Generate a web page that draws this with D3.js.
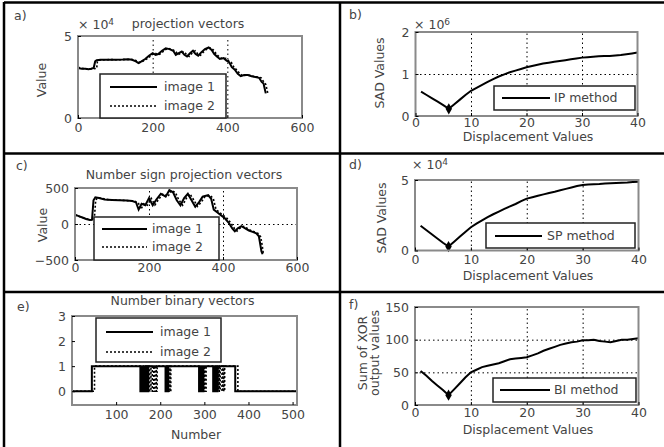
<!DOCTYPE html>
<html><head><meta charset="utf-8">
<script src="https://cdn.jsdelivr.net/npm/d3@7"></script>
<style>
body{margin:0;background:#fff}
text{font-family:"DejaVu Sans",sans-serif;fill:#444;font-size:12.5px}
</style>
</head><body><svg width="664" height="447"></svg>
<script>
// ---- data ----
const displacement = [1,2,3,4,5,6,7,8,9,10,11,12,13,14,15,16,17,18,19,20,21,22,23,24,25,26,27,28,29,30,31,32,33,34,35,36,37,38,39,40];

// b) IP method, SAD (x 10^6)
const sadIP = [0.58,0.50,0.42,0.34,0.26,0.17,0.28,0.39,0.50,0.60,0.67,0.74,0.81,0.88,0.94,0.99,1.04,1.08,1.12,1.16,1.19,1.22,1.25,1.27,1.29,1.31,1.33,1.35,1.37,1.39,1.40,1.41,1.42,1.43,1.43,1.44,1.45,1.47,1.49,1.51];
// d) SP method, SAD (x 10^4)
const sadSP = [1.75,1.45,1.15,0.85,0.55,0.28,0.62,0.97,1.32,1.65,1.90,2.13,2.36,2.57,2.76,2.95,3.13,3.30,3.50,3.68,3.78,3.88,3.98,4.08,4.17,4.27,4.37,4.47,4.57,4.65,4.68,4.70,4.72,4.75,4.77,4.79,4.81,4.83,4.86,4.88];
// f) BI method, sum of XOR
const xorBI = [52,45,37,30,23,15,24,33,42,50,54,58,60,62,64,67,70,71,72,73,76,79,83,86,89,92,94,96,97,99,99,100,98,97,96,98,100,100,101,102];

// a) projection vectors (x 10^4)
const projImg1 = [[0,3.05],[10,3.0],[20,3.0],[28,2.98],[35,3.0],[42,3.05],[46,3.45],[50,3.52],[60,3.55],[80,3.55],[100,3.55],[120,3.56],[135,3.58],[145,3.55],[155,3.45],[162,3.35],[170,3.45],[180,3.6],[190,3.8],[200,3.95],[208,3.85],[215,3.9],[225,4.1],[235,4.25],[245,4.2],[255,4.1],[262,3.85],[270,3.95],[278,4.05],[285,3.85],[292,3.75],[300,3.95],[308,4.1],[315,3.9],[322,3.8],[330,4.0],[340,4.2],[350,4.3],[358,4.15],[365,3.9],[372,3.75],[380,3.6],[390,3.65],[398,3.5],[405,3.4],[412,3.1],[420,2.95],[428,2.7],[436,2.55],[445,2.62],[455,2.62],[465,2.55],[475,2.5],[485,2.45],[492,2.2],[497,2.1],[500,1.8],[503,1.5]];
const projImg2 = [[0,3.1],[12,3.02],[25,2.98],[40,3.0],[50,3.02],[52,3.45],[56,3.52],[70,3.55],[90,3.56],[110,3.55],[130,3.57],[145,3.57],[155,3.5],[165,3.38],[175,3.48],[186,3.62],[196,3.82],[206,3.97],[214,3.86],[222,3.92],[231,4.12],[241,4.25],[251,4.18],[261,4.08],[268,3.86],[276,3.97],[284,4.05],[291,3.86],[298,3.76],[306,3.97],[314,4.1],[321,3.9],[328,3.82],[336,4.02],[346,4.22],[356,4.28],[364,4.12],[371,3.88],[378,3.74],[386,3.62],[396,3.64],[404,3.48],[411,3.38],[418,3.08],[426,2.92],[434,2.68],[442,2.56],[451,2.62],[461,2.6],[471,2.53],[481,2.5],[491,2.44],[498,2.18],[503,2.05],[506,1.75],[509,1.45]];

// c) number sign projection vectors
const signImg1 = [[0,130],[10,110],[20,90],[30,70],[40,55],[46,60],[50,330],[55,370],[65,360],[80,340],[100,335],[120,330],[140,325],[155,320],[165,300],[172,200],[180,280],[190,260],[200,360],[210,260],[220,340],[232,420],[245,380],[255,470],[265,440],[275,330],[285,260],[295,360],[305,420],[315,330],[325,240],[335,300],[345,380],[360,400],[368,350],[375,200],[385,160],[395,120],[405,80],[415,20],[425,-60],[432,-100],[440,-60],[450,-30],[460,-60],[470,-90],[480,-110],[490,-130],[497,-170],[500,-260],[504,-380],[507,-420]];
const signImg2 = [[0,125],[14,100],[26,80],[38,62],[48,55],[52,60],[56,330],[61,365],[72,355],[90,338],[110,332],[130,328],[148,322],[161,318],[171,295],[178,205],[186,282],[196,262],[206,355],[216,265],[226,342],[238,418],[251,382],[261,465],[271,438],[281,332],[291,262],[301,358],[311,418],[321,332],[331,245],[341,302],[351,378],[366,398],[374,348],[381,205],[391,158],[401,118],[411,78],[421,15],[431,-62],[438,-98],[446,-58],[456,-32],[466,-62],[476,-92],[486,-112],[496,-135],[502,-180],[506,-300],[509,-410]];

// e) number binary vectors (step points)
const binImg1 = [[0,0],[45,1],[155,0],[157,1],[159,0],[161,1],[163,0],[165,1],[167,0],[169,1],[171,0],[173,1],[212,0],[214,1],[216,0],[218,1],[288,0],[290,1],[292,0],[294,1],[296,0],[298,1],[320,0],[322,1],[324,0],[326,1],[328,0],[330,1],[370,0],[510,0]];
const binImg2 = [[0,0],[51,1],[161,0],[164,1],[167,0],[170,1],[173,0],[176,1],[179,0],[182,1],[185,0],[188,1],[191,0],[193,1],[218,0],[220,1],[222,0],[224,1],[294,0],[296,1],[298,0],[300,1],[302,0],[304,1],[326,0],[328,1],[330,0],[332,1],[334,0],[336,1],[340,0],[342,1],[344,0],[346,1],[376,0],[510,0]];

const svg = d3.select("svg");

function panel(p) {
  const g = svg.append("g");
  const [x0, x1, y0, y1] = p.box;
  const x = d3.scaleLinear().domain(p.xDomain).range([x0, x1]);
  const y = d3.scaleLinear().domain(p.yDomain).range([y1, y0]);

  // grid
  if (p.xGrid.length)
    g.append("g").attr("transform", `translate(0,${y1})`)
      .call(d3.axisBottom(x).tickValues(p.xGrid).tickSize(-(y1 - y0)).tickFormat(""))
      .call(a => a.select(".domain").remove())
      .selectAll("line").attr("stroke", "#000").attr("stroke-dasharray", "1.5,3");
  if (p.yGrid.length)
    g.append("g").attr("transform", `translate(${x0},0)`)
      .call(d3.axisLeft(y).tickValues(p.yGrid).tickSize(-(x1 - x0)).tickFormat(""))
      .call(a => a.select(".domain").remove())
      .selectAll("line").attr("stroke", "#000").attr("stroke-dasharray", "1.5,3");

  // data lines
  p.series.forEach(s => {
    const line = d3.line().x(d => x(d[0])).y(d => y(d[1]));
    if (s.step) line.curve(d3.curveStepAfter);
    g.append("path").datum(s.data)
      .attr("fill", "none").attr("stroke", "#000")
      .attr("stroke-width", s.dash ? 1.6 : 2)
      .attr("stroke-dasharray", s.dash ? "2,2" : null)
      .attr("d", line);
  });
  if (p.minMark) {
    g.append("path")
      .attr("transform", `translate(${x(p.minMark[0])},${y(p.minMark[1])})`)
      .attr("d", d3.symbol(d3.symbolDiamond, 36)())
      .attr("fill", "#000");
  }

  // axes box
  g.append("rect").attr("x", x0).attr("y", y0).attr("width", x1 - x0).attr("height", y1 - y0)
    .attr("fill", "none").attr("stroke", "#8a8a8a").attr("stroke-width", 2);

  // axes with labels
  const ax = g.append("g").attr("transform", `translate(0,${y1})`)
    .call(d3.axisBottom(x).tickValues(p.xTicks).tickSize(-3).tickFormat(d3.format("d")));
  const ay = g.append("g").attr("transform", `translate(${x0},0)`)
    .call(d3.axisLeft(y).tickValues(p.yTicks).tickSize(-3).tickPadding(6).tickFormat(d3.format("d")));
  [ax, ay].forEach(a => {
    a.select(".domain").remove();
    a.selectAll("line").attr("stroke", "#000");
    a.selectAll("text").attr("font-family", "DejaVu Sans").attr("font-size", 12.5).attr("fill", "#444");
  });
  ax.selectAll("text").attr("y", p.xTickOff).attr("dy", "0.35em");

  // legend
  if (p.legend) {
    const L = p.legend;
    g.append("rect").attr("x", L.box[0]).attr("y", L.box[1]).attr("width", L.box[2]).attr("height", L.box[3])
      .attr("fill", "#fff").attr("stroke", "#222").attr("stroke-width", 1.5);
    L.items.forEach((it, i) => {
      const ly = L.rows[i];
      g.append("line").attr("x1", L.line[0]).attr("x2", L.line[1]).attr("y1", ly).attr("y2", ly)
        .attr("stroke", "#000").attr("stroke-width", it.dash ? 1.6 : 2)
        .attr("stroke-dasharray", it.dash ? "2,2" : null);
      g.append("text").attr("x", L.textX).attr("y", ly).attr("dy", "0.35em").text(it.label);
    });
  }

  // labels
  g.append("text").attr("x", p.tag[0]).attr("y", p.tag[1]).attr("dy", "0.35em")
    .attr("font-size", 12).text(p.tagText);
  if (p.title)
    g.append("text").attr("x", (x0 + x1) / 2 - 2).attr("y", p.titleY).attr("dy", "0.35em")
      .attr("text-anchor", "middle").text(p.title);
  if (p.exp) {
    const t = g.append("text").attr("x", p.exp[0]).attr("y", p.exp[1]).attr("dy", "0.35em");
    t.append("tspan").text("\u00d7 10");
    t.append("tspan").attr("dy", "-0.45em").attr("font-size", 9).text(p.expText);
  }
  if (p.xLabel)
    g.append("text").attr("x", p.xLabelPos[0]).attr("y", p.xLabelPos[1]).attr("dy", "0.35em")
      .attr("text-anchor", "middle").attr("font-size", 12).text(p.xLabel);
  p.yLabel.forEach((lab, i) => {
    g.append("text")
      .attr("transform", `translate(${p.yLabelPos[0] + i * 12},${p.yLabelPos[1]}) rotate(-90)`)
      .attr("dy", "0.35em").attr("text-anchor", "middle").attr("font-size", 12).text(lab);
  });
}

panel({
  box: [78, 302, 36, 118], xDomain: [0, 600], yDomain: [0, 5],
  xTicks: [0, 200, 400, 600], yTicks: [0, 5], xGrid: [200, 400], yGrid: [], xTickOff: 10,
  series: [{data: projImg1}, {data: projImg2, dash: true}],
  legend: {box: [100, 74, 126, 44], line: [110, 157], textX: 164, rows: [87, 106],
           items: [{label: "image 1"}, {label: "image 2", dash: true}]},
  tag: [14, 16], tagText: "a)", title: "projection vectors", titleY: 24,
  exp: [78, 25], expText: "4", yLabel: ["Value"], yLabelPos: [42, 80]
});
panel({
  box: [415.5, 637.5, 32, 116], xDomain: [0, 40], yDomain: [0, 2],
  xTicks: [0, 10, 20, 30, 40], yTicks: [0, 1, 2], xGrid: [10, 20, 30], yGrid: [1], xTickOff: 7,
  series: [{data: displacement.map((d, i) => [d, sadIP[i]])}], minMark: [6, sadIP[5]],
  legend: {box: [494, 86, 141, 24], line: [502, 550], textX: 554, rows: [98],
           items: [{label: "IP method"}]},
  tag: [349, 15], tagText: "b)", exp: [414, 25], expText: "6",
  xLabel: "Displacement Values", xLabelPos: [528, 137], yLabel: ["SAD Values"], yLabelPos: [380, 73]
});
panel({
  box: [75, 297, 188, 260], xDomain: [0, 600], yDomain: [-500, 500],
  xTicks: [0, 200, 400, 600], yTicks: [-500, 0, 500], xGrid: [200, 400], yGrid: [0], xTickOff: 7.5,
  series: [{data: signImg1}, {data: signImg2, dash: true}],
  legend: {box: [94, 217, 125, 43], line: [102, 147], textX: 152, rows: [229, 247],
           items: [{label: "image 1"}, {label: "image 2", dash: true}]},
  tag: [16, 166], tagText: "c)", title: "Number sign projection vectors", titleY: 175,
  yLabel: ["Value"], yLabelPos: [43, 225]
});
panel({
  box: [415, 638.5, 180, 250.5], xDomain: [0, 40], yDomain: [0, 5],
  xTicks: [0, 10, 20, 30, 40], yTicks: [0, 5], xGrid: [10, 20, 30], yGrid: [], xTickOff: 9.5,
  series: [{data: displacement.map((d, i) => [d, sadSP[i]])}], minMark: [6, sadSP[5]],
  legend: {box: [486, 223, 149, 25], line: [495, 542], textX: 547, rows: [236],
           items: [{label: "SP method"}]},
  tag: [349, 165], tagText: "d)", exp: [412, 165], expText: "4",
  xLabel: "Displacement Values", xLabelPos: [528, 276], yLabel: ["SAD Values"], yLabelPos: [382, 218]
});
panel({
  box: [72, 297, 316, 405], xDomain: [0, 510], yDomain: [-0.55, 3],
  xTicks: [100, 200, 300, 400, 500], yTicks: [0, 1, 2, 3], xGrid: [], yGrid: [], xTickOff: 10,
  series: [{data: binImg1, step: true}, {data: binImg2, step: true, dash: true}],
  legend: {box: [96, 318, 125, 44], line: [106, 153], textX: 160, rows: [332, 352],
           items: [{label: "image 1"}, {label: "image 2", dash: true}]},
  tag: [17, 307], tagText: "e)", title: "Number binary vectors", titleY: 301,
  xLabel: "Number", xLabelPos: [196, 435], yLabel: []
});
panel({
  box: [415, 638.5, 307, 405], xDomain: [0, 40], yDomain: [0, 150],
  xTicks: [0, 10, 20, 30, 40], yTicks: [0, 50, 100, 150], xGrid: [10, 20, 30], yGrid: [50, 100], xTickOff: 8,
  series: [{data: displacement.map((d, i) => [d, xorBI[i]])}], minMark: [6, xorBI[5]],
  legend: {box: [493, 378, 143, 24], line: [500, 550], textX: 554, rows: [390],
           items: [{label: "BI method"}]},
  tag: [349, 305], tagText: "f)",
  xLabel: "Displacement Values", xLabelPos: [528, 430], yLabel: ["Sum of XOR", "output values"], yLabelPos: [363, 353]
});

// panel frame lines
const frame = [[4, 2, 4, 447], [340, 2, 340, 447], [4, 2.5, 664, 2.5], [4, 153.5, 664, 153.5], [4, 292, 664, 292]];
svg.selectAll("line.frame").data(frame).join("line").attr("class", "frame")
  .attr("x1", d => d[0]).attr("y1", d => d[1]).attr("x2", d => d[2]).attr("y2", d => d[3])
  .attr("stroke", "#000").attr("stroke-width", 2.5);
</script>
</body></html>
